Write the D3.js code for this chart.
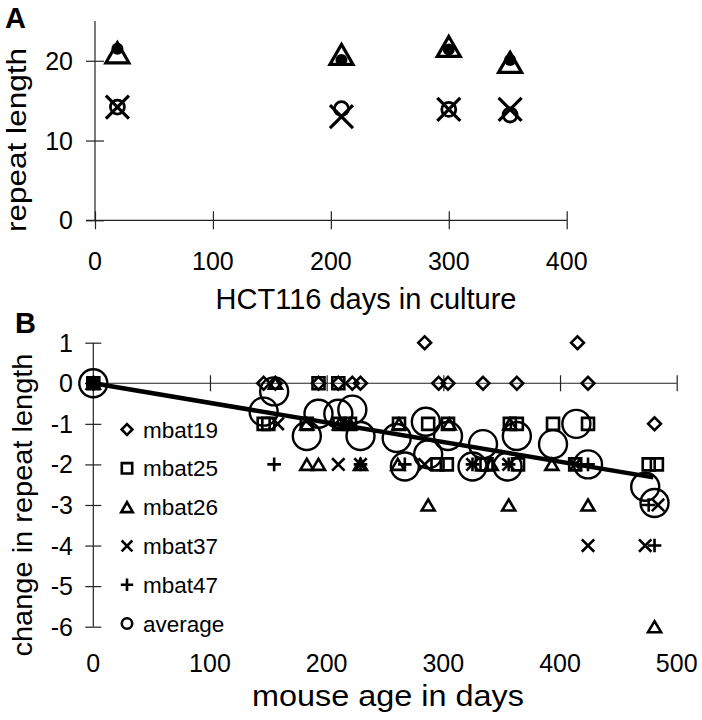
<!DOCTYPE html>
<html>
<head>
<meta charset="utf-8">
<script src="https://cdn.jsdelivr.net/npm/d3@7/dist/d3.min.js"></script>
<style>
  html, body { margin: 0; padding: 0; background: #fff; }
  svg { display: block; font-family: "Liberation Sans", Arial, Helvetica, sans-serif; }
</style>
</head>
<body>
<svg id="chart" width="702" height="720"></svg>
<script>
// ---------- Panel A data ----------
const aDays     = [19, 209, 300, 352];
const aTriangle = [21.0, 20.8, 21.8, 19.8];
const aDot      = [21.5, 20.1, 21.4, 20.1];
const aCircle   = [14.2, 14.0, 13.9, 13.2];
const aCross    = [14.2, 13.0, 13.9, 13.9];
const aXTicks = [0, 100, 200, 300, 400];
const aYTicks = [0, 10, 20];

// ---------- Panel B data: [age in days, change in repeat length] ----------
const mbat19 = [[0,0],[146,0],[156,0],[193,0],[210,0],[222,0],[229,0],[284,1],[296,0],[304,0],[334,0],[363,0],[415,1],[424,0],[481,-1]];
const mbat25 = [[0,0],[193,0],[210,0],[146,-1],[150,-1],[183,-1],[211,-1],[220,-1],[262,-1],[287,-1],[304,-1],[357,-1],[363,-1],[394,-1],[424,-1],[295,-2],[303,-2],[333,-2],[337,-2],[364,-2],[413,-2],[476,-2],[483,-2]];
const mbat26 = [[0,0],[156,0],[183,-1],[211,-1],[220,-1],[262,-1],[305,-1],[357,-1],[183,-2],[193,-2],[229,-2],[261,-2],[341,-2],[393,-2],[287,-3],[356,-3],[424,-3],[481,-6]];
const mbat37 = [[0,0],[158,-1],[216,-1],[210,-2],[229,-2],[284,-2],[325,-2],[356,-2],[413,-2],[484,-3],[424,-4],[473,-4]];
const mbat47 = [[0,0],[155,-2],[216,-1],[229,-2],[267,-2],[325,-2],[356,-2],[424,-2],[476,-3],[481,-4]];
const average = [[0,0],[146,-0.7],[155,-0.2],[183,-1.3],[193,-0.75],[210,-0.75],[222,-0.65],[229,-1.3],[260,-1.35],[267,-2.05],[285,-0.95],[287,-1.75],[304,-1.3],[325,-2.05],[334,-1.5],[355,-2.05],[363,-1.3],[394,-1.5],[414,-1.0],[424,-2.0],[473,-2.55],[481,-2.95]];
const fitDays = [0, 480];
const fitValues = [0, -2.32];
const legendNames = ["mbat19", "mbat25", "mbat26", "mbat37", "mbat47", "average"];
const bXTicks = [0, 100, 200, 300, 400, 500];
const bYTicks = [1, 0, -1, -2, -3, -4, -5, -6];

// ---------- symbol path helpers ----------
const sym = {
  diamond: r => `M0,${-r}L${r},0L0,${r}L${-r},0Z`,
  square: r => `M${-r},${-r}H${r}V${r}H${-r}Z`,
  triangle: (w, h) => `M0,${-h/2}L${w/2},${h/2}L${-w/2},${h/2}Z`,
  cross: r => `M${-r},${-r}L${r},${r}M${r},${-r}L${-r},${r}`,
  plus: r => `M${-r},0H${r}M0,${-r}V${r}`
};

const svg = d3.select("#chart");
const FONT_TICK = 25, FONT_TITLE = 29;

// ================= Panel A =================
const xA = d3.scaleLinear().domain([0, 400]).range([95, 566.7]);
const yA = d3.scaleLinear().domain([0, 25]).range([220.3, 20.9]);
const gA = svg.append("g");

const axAx = gA.append("g").attr("transform", `translate(0,${yA(0)})`)
  .call(d3.axisBottom(xA).tickValues(aXTicks).tickSize(0).tickFormat(""));
axAx.select(".domain").attr("d", `M${xA(0)-9},0H${xA(400)}`);
axAx.selectAll(".tick line").attr("y1", -9).attr("y2", 9);
const ayAx = gA.append("g").attr("transform", `translate(${xA(0)},0)`)
  .call(d3.axisLeft(yA).tickValues(aYTicks).tickSize(0).tickFormat(""));
ayAx.select(".domain").attr("d", `M0,${yA(25)}V${yA(0)}`);
ayAx.selectAll(".tick line").attr("x1", -9).attr("x2", 9);
gA.selectAll(".domain, .tick line").attr("stroke", "#222").attr("stroke-width", 1.2);

gA.selectAll(".xlabA").data(aXTicks).join("text")
  .attr("x", d => xA(d)).attr("y", 270).attr("text-anchor", "middle")
  .attr("font-size", FONT_TICK).text(d => d);
gA.selectAll(".ylabA").data(aYTicks).join("text")
  .attr("x", 73).attr("y", d => yA(d)).attr("dy", "0.36em").attr("text-anchor", "end")
  .attr("font-size", FONT_TICK).text(d => d);

gA.append("text").attr("x", 366).attr("y", 309).attr("text-anchor", "middle")
  .attr("font-size", FONT_TITLE).text("HCT116 days in culture");
gA.append("text").attr("transform", "translate(26,140) rotate(-90)").attr("text-anchor", "middle")
  .attr("font-size", 27).attr("textLength", 184).attr("lengthAdjust", "spacingAndGlyphs")
  .text("repeat length");
gA.append("text").attr("x", 5).attr("y", 28).attr("font-size", 29).attr("font-weight", "bold").text("A");

const ptsA = gA.append("g");
aDays.forEach((d, i) => {
  ptsA.append("path").attr("transform", `translate(${xA(d)},${yA(aTriangle[i])})`)
    .attr("d", sym.triangle(23, 20)).attr("fill", "none").attr("stroke", "#000").attr("stroke-width", 3.2);
  ptsA.append("circle").attr("cx", xA(d)).attr("cy", yA(aDot[i])).attr("r", 6).attr("fill", "#000");
  ptsA.append("circle").attr("cx", xA(d)).attr("cy", yA(aCircle[i])).attr("r", 7).attr("fill", "none").attr("stroke", "#000").attr("stroke-width", 2.8);
  ptsA.append("path").attr("transform", `translate(${xA(d)},${yA(aCross[i])})`)
    .attr("d", sym.cross(11.5)).attr("fill", "none").attr("stroke", "#000").attr("stroke-width", 3.2);
});

// ================= Panel B =================
const xB = d3.scaleLinear().domain([0, 500]).range([93.3, 676.7]);
const yB = d3.scaleLinear().domain([-6, 1]).range([626.7, 342.7]);
const gB = svg.append("g");

const bxAx = gB.append("g").attr("transform", `translate(0,${yB(0)})`)
  .call(d3.axisBottom(xB).tickValues(bXTicks).tickSize(0).tickFormat(""));
bxAx.select(".domain").attr("d", `M${xB(0)-8},0H${xB(500)}`);
bxAx.selectAll(".tick line").attr("y1", -8).attr("y2", 8);
const byAx = gB.append("g").attr("transform", `translate(${xB(0)},0)`)
  .call(d3.axisLeft(yB).tickValues(bYTicks).tickSize(0).tickFormat(""));
byAx.select(".domain").attr("d", `M0,${yB(1)}V${yB(-6)}`);
byAx.selectAll(".tick line").attr("x1", -8).attr("x2", 8);
gB.selectAll(".domain, .tick line").attr("stroke", "#222").attr("stroke-width", 1.2);

gB.selectAll(".xlabB").data(bXTicks).join("text")
  .attr("x", d => xB(d)).attr("y", 672).attr("text-anchor", "middle")
  .attr("font-size", FONT_TICK).text(d => d);
gB.selectAll(".ylabB").data(bYTicks).join("text")
  .attr("x", 73).attr("y", d => yB(d)).attr("dy", "0.36em").attr("text-anchor", "end")
  .attr("font-size", FONT_TICK).text(d => d);

gB.append("text").attr("x", 388).attr("y", 706).attr("text-anchor", "middle")
  .attr("font-size", 30).attr("textLength", 272).attr("lengthAdjust", "spacingAndGlyphs")
  .text("mouse age in days");
gB.append("text").attr("transform", "translate(32,505) rotate(-90)").attr("text-anchor", "middle")
  .attr("font-size", 28).attr("textLength", 303).attr("lengthAdjust", "spacingAndGlyphs")
  .text("change in repeat length");
gB.append("text").attr("x", 15).attr("y", 333).attr("font-size", 29).attr("font-weight", "bold").text("B");

const pB = gB.append("g").attr("fill", "none").attr("stroke", "#000").attr("stroke-width", 2.6);
function drawSeries(data, pathStr) {
  pB.append("g").selectAll("path").data(data).join("path")
    .attr("transform", d => `translate(${xB(d[0])},${yB(d[1])})`)
    .attr("d", pathStr);
}
pB.append("g").selectAll("circle").data(average).join("circle")
  .attr("cx", d => xB(d[0])).attr("cy", d => yB(d[1])).attr("r", 14).attr("stroke-width", 2.4);
drawSeries(mbat19, sym.diamond(6.4));
drawSeries(mbat25, sym.square(6));
drawSeries(mbat26, sym.triangle(13, 11));
drawSeries(mbat37, sym.cross(6.2));
drawSeries(mbat47, sym.plus(6.8));

const line = d3.line().x(d => xB(d[0])).y(d => yB(d[1]));
gB.append("path").datum(fitDays.map((d, i) => [d, fitValues[i]]))
  .attr("d", line).attr("stroke", "#000").attr("stroke-width", 4.5).attr("fill", "none");

const legSyms = [sym.diamond(5.4), sym.square(5.2), sym.triangle(11.5, 10), sym.cross(5.4), sym.plus(6.2), null];
const leg = gB.append("g");
legendNames.forEach((name, i) => {
  const cy = 429.5 + i * 38.8;
  if (legSyms[i]) {
    leg.append("path").attr("transform", `translate(127,${cy})`).attr("d", legSyms[i])
      .attr("fill", "none").attr("stroke", "#000").attr("stroke-width", 2.6);
  } else {
    leg.append("circle").attr("cx", 127).attr("cy", cy).attr("r", 5.2)
      .attr("fill", "none").attr("stroke", "#000").attr("stroke-width", 2.6);
  }
  leg.append("text").attr("x", 143).attr("y", cy).attr("dy", "0.36em")
    .attr("font-size", 22.5).text(name);
});
</script>
</body>
</html>
